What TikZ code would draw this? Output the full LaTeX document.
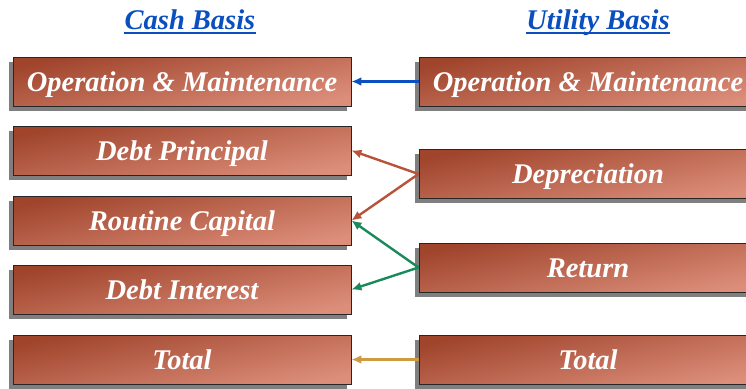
\documentclass[tikz,border=0pt]{standalone}
\usepackage{fontspec}
\setmainfont{Liberation Serif}
\usetikzlibrary{arrows.meta,shadows}

\definecolor{boxdark}{HTML}{A0442C}
\definecolor{boxlight}{HTML}{DC8E7A}
\definecolor{shadowgray}{HTML}{7F7F7F}
\definecolor{headblue}{HTML}{0A4FBF}
\definecolor{arrblue}{HTML}{0A50C0}
\definecolor{arrrust}{HTML}{B8533A}
\definecolor{arrgreen}{HTML}{1A8A5A}
\definecolor{arrgold}{HTML}{D09A40}

\tikzset{
  item/.style={
    draw=black!85, line width=0.9pt,
    top color=boxdark, bottom color=boxlight, shading angle=12,
    general shadow={fill=shadowgray, shadow xshift=-4.5pt, shadow yshift=-4.5pt},
    minimum width=338pt, minimum height=49pt, inner sep=0pt,
    text=white, text height=19pt, text depth=0pt,
    font=\fontsize{28.5}{30}\selectfont\bfseries\itshape
  },
  heading/.style={
    text=headblue, inner sep=0pt, anchor=base,
    font=\fontsize{28.5}{30}\selectfont\bfseries\itshape
  },
  link/.style={line width=2.4pt, -{Latex[length=10pt,width=9pt]}}
}

\begin{document}
\begin{tikzpicture}[x=1pt,y=-1pt]
  \useasboundingbox (0,0) rectangle (746,388);
  \clip (0,0) rectangle (746,388);

  % column headings
  \node[heading] (cash) at (190,29) {Cash Basis};
  \node[heading] (util) at (598,29) {Utility Basis};
  \draw[headblue, line width=2pt] ([yshift=-4pt]cash.base west) -- ([yshift=-4pt]cash.base east);
  \draw[headblue, line width=2pt] ([yshift=-4pt]util.base west) -- ([yshift=-4pt]util.base east);

  % cash basis column
  \node[item] (om1) at (182,81.5)  {Operation \& Maintenance};
  \node[item] (dp)  at (182,150.5) {Debt Principal};
  \node[item] (rc)  at (182,220.5) {Routine Capital};
  \node[item] (di)  at (182,289.5) {Debt Interest};
  \node[item] (tot1) at (182,359.5) {Total};

  % utility basis column
  \node[item] (om2) at (588,81.5)  {Operation \& Maintenance};
  \node[item] (dep) at (588,174)   {Depreciation};
  \node[item] (ret) at (588,267.5) {Return};
  \node[item] (tot2) at (588,359.5) {Total};

  % connectors
  \draw[link, arrblue]  (om2.west) -- (om1.east);
  \draw[link, arrrust]  (dep.west) -- (dp.east);
  \draw[link, arrrust]  (dep.west) -- (rc.east);
  \draw[link, arrgreen] (ret.west) -- (rc.east);
  \draw[link, arrgreen] (ret.west) -- (di.east);
  \draw[link, arrgold]  (tot2.west) -- (tot1.east);
\end{tikzpicture}
\end{document}
